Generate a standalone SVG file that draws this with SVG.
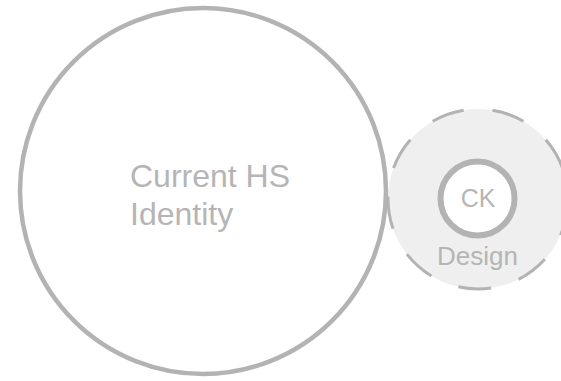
<svg xmlns="http://www.w3.org/2000/svg" width="561" height="381" viewBox="0 0 561 381">
  <style>
    .lbl { font-family: "Liberation Sans", Arial, sans-serif; fill: #b5b5b5; }
    .ring { fill: none; stroke: #b3b3b3; }
  </style>
  <rect width="561" height="381" fill="#ffffff"/>
  <g id="ck-design">
    <circle cx="478" cy="199" r="90" fill="#efefef" stroke="#b3b3b3" stroke-width="3" stroke-dasharray="33 29" stroke-dashoffset="58"/>
    <circle cx="477.5" cy="198.5" r="37" fill="#ffffff" stroke="#b3b3b3" stroke-width="6"/>
    <text class="lbl" x="478" y="207" font-size="25" text-anchor="middle">CK</text>
    <text class="lbl" x="477.5" y="265" font-size="26" text-anchor="middle">Design</text>
  </g>
  <g id="current-hs-identity">
    <circle class="ring" cx="203" cy="191" r="183" stroke-width="4.5"/>
    <text class="lbl" x="130" y="187" font-size="32">Current HS</text>
    <text class="lbl" x="130" y="225" font-size="32">Identity</text>
  </g>
  <g id="connectors"/>
</svg>
